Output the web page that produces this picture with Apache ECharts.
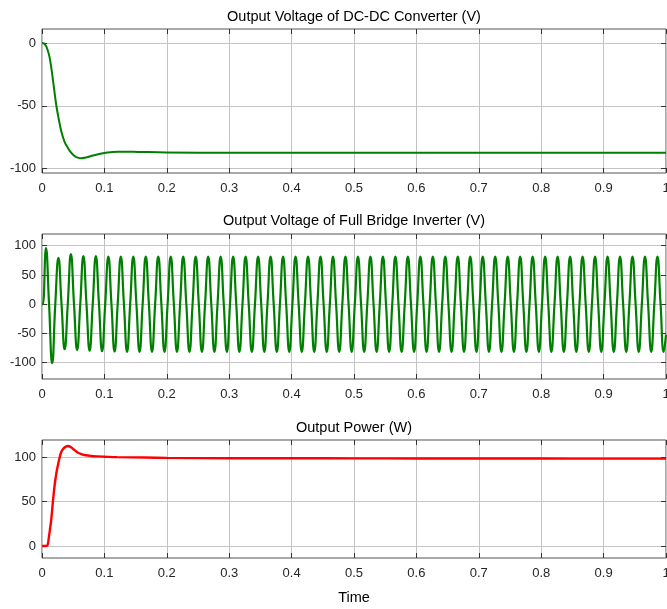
<!DOCTYPE html>
<html>
<head>
<meta charset="utf-8">
<script src="https://cdn.jsdelivr.net/npm/echarts@6/dist/echarts.min.js"></script>
<style>
html,body{margin:0;padding:0;background:#fff;}
#chart{width:667px;height:609px;}
</style>
</head>
<body>
<div id="chart"></div>
<script>
// ---------- data ----------
const titles = [
  'Output Voltage of DC-DC Converter (V)',
  'Output Voltage of Full Bridge Inverter (V)',
  'Output Power (W)'
];
const xLabelName = 'Time';
const xTicks = [0, 0.1, 0.2, 0.3, 0.4, 0.5, 0.6, 0.7, 0.8, 0.9, 1];

const dcYTicks = [-100, -50, 0];
const invYTicks = [-100, -50, 0, 50, 100];
const powYTicks = [0, 50, 100];

// DC-DC converter output voltage
const dcTime = [0, 0.003, 0.006, 0.009, 0.012, 0.015, 0.019, 0.023, 0.027, 0.031, 0.036, 0.042,
  0.047, 0.052, 0.057, 0.063, 0.07, 0.079, 0.09, 0.1, 0.11, 0.122, 0.135, 0.154, 0.2,
  0.3, 0.4, 0.5, 0.6, 0.7, 0.8, 0.9, 1.0];
const dcVolt = [0, -0.3, -2, -5.5, -11, -20, -35, -50, -61, -70.6, -78.5, -84,
  -87.6, -90, -91.3, -91.9, -91.3, -90, -88.6, -87.6, -87, -86.6, -86.6, -86.8, -87.2,
  -87.4, -87.4, -87.4, -87.4, -87.4, -87.4, -87.4, -87.4];

// Full bridge inverter output voltage: samples at the zero crossings / extrema
// (one row = 0.1 s = 5 cycles), plus start and end points
const invStart = 0;
const invVolt = [
  0, 96, 0, -101, 0, 79, 0, -77, 0, 85.6, 0, -78.5, 0, 82, 0, -79.7, 0, 82, 0, -80.5,
  0, 81.5, 0, -81, 0, 81.5, 0, -81.5, 0, 81.5, 0, -81.5, 0, 81.5, 0, -81.5, 0, 81.5, 0, -81.5,
  0, 81.5, 0, -81.5, 0, 81.5, 0, -81.5, 0, 81.5, 0, -81.5, 0, 81.5, 0, -81.5, 0, 81.5, 0, -81.5,
  0, 81.5, 0, -81.5, 0, 81.5, 0, -81.5, 0, 81.5, 0, -81.5, 0, 81.5, 0, -81.5, 0, 81.5, 0, -81.5,
  0, 81.5, 0, -81.5, 0, 81.5, 0, -81.5, 0, 81.5, 0, -81.5, 0, 81.5, 0, -81.5, 0, 81.5, 0, -81.5,
  0, 81.5, 0, -81.5, 0, 81.5, 0, -81.5, 0, 81.5, 0, -81.5, 0, 81.5, 0, -81.5, 0, 81.5, 0, -81.5,
  0, 81.5, 0, -81.5, 0, 81.5, 0, -81.5, 0, 81.5, 0, -81.5, 0, 81.5, 0, -81.5, 0, 81.5, 0, -81.5,
  0, 81.5, 0, -81.5, 0, 81.5, 0, -81.5, 0, 81.5, 0, -81.5, 0, 81.5, 0, -81.5, 0, 81.5, 0, -81.5,
  0, 81.5, 0, -81.5, 0, 81.5, 0, -81.5, 0, 81.5, 0, -81.5, 0, 81.5, 0, -81.5, 0, 81.5, 0, -81.5,
  0, 81.5, 0, -81.5, 0, 81.5, 0, -81.5, 0, 81.5, 0, -81.5, 0, 81.5, 0, -81.5, 0, 81.5, 0, -81.5
];
const invEnd = -52;
const invFirstT = 0.0013;   // time of first sample in invVolt
const invStep = 0.005;      // sample spacing (quarter period of 50 Hz)

// Output power
const powTime = [0, 0.005, 0.0085, 0.011, 0.013, 0.015, 0.0175, 0.0203, 0.023, 0.0256, 0.028,
  0.031, 0.034, 0.037, 0.0417, 0.047, 0.052, 0.057, 0.063, 0.07, 0.079, 0.09, 0.1, 0.12,
  0.165, 0.2, 0.3, 0.4, 0.5, 0.6, 0.7, 0.8, 0.9, 1.0];
const powVal = [0, 0, 0.5, 10, 20, 31, 50, 68.8, 82, 91.3, 99,
  106.3, 109.5, 111.5, 112.7, 111, 108.2, 105.5, 103.7, 102.3, 101.5, 101, 100.7, 100.2,
  99.7, 99.4, 98.9, 98.9, 98.8, 98.7, 98.6, 98.6, 98.5, 98.5];

// ---------- build ----------
const FONT = "'Liberation Sans',Arial,Helvetica,sans-serif";
const zip = (a, b) => a.map((v, i) => [v, b[i]]);
const dcData = zip(dcTime, dcVolt);
const invData = [[0, invStart]].concat(invVolt.map((v, i) => [invFirstT + invStep * i, v]), [[1, invEnd]]);
const powData = zip(powTime, powVal);

const grids = [
  {left: 42, right: 1, top: 29, height: 144},
  {left: 42, right: 1, top: 234, height: 145},
  {left: 42, right: 1, top: 440, height: 118}
].map(g => Object.assign(g, {show: true, borderColor: '#555', borderWidth: 1,
  backgroundColor: '#fff', containLabel: false, outerBoundsMode: 'none'}));

const yRanges = [[-103.6, 11.2], [-128, 120], [-13.5, 119.5]];
const yTickSets = [dcYTicks, invYTicks, powYTicks];

const tickStyle = {show: true, inside: true, length: 5, lineStyle: {color: '#333', width: 1}};
const gridLine = {show: true, lineStyle: {color: '#c4c4c4', width: 1}};
const labelStyle = {color: '#262626', fontSize: 13, fontFamily: FONT};

const xAxes = [], yAxes = [];
for (let g = 0; g < 3; g++) {
  xAxes.push({
    gridIndex: g, type: 'value', min: 0, max: 1, interval: 0.1, position: 'bottom',
    axisLine: {show: false, onZero: false},
    axisTick: Object.assign({}, tickStyle),
    splitLine: gridLine,
    axisLabel: Object.assign({}, labelStyle, {margin: 9,
      showMinLabel: true, showMaxLabel: true, hideOverlap: false,
      formatter: v => String(Math.round(v * 10) / 10)})
  });
  yAxes.push({
    gridIndex: g, type: 'value', min: yRanges[g][0], max: yRanges[g][1], position: 'left',
    axisLine: {show: false, onZero: false},
    axisTick: Object.assign({}, tickStyle, {customValues: yTickSets[g]}),
    splitLine: gridLine,
    axisLabel: Object.assign({}, labelStyle, {customValues: yTickSets[g], margin: 6,
      formatter: v => String(v)})
  });
}
// mirrored axes (ticks on top and right, as in the box-style original)
for (let g = 0; g < 3; g++) {
  xAxes.push({
    gridIndex: g, type: 'value', position: 'top', min: 0, max: 1, interval: 0.1,
    axisLine: {show: false, onZero: false}, axisTick: Object.assign({}, tickStyle),
    splitLine: {show: false}, axisLabel: {show: false}
  });
  yAxes.push({
    gridIndex: g, type: 'value', position: 'right', min: yRanges[g][0], max: yRanges[g][1],
    axisLine: {show: false, onZero: false},
    axisTick: Object.assign({}, tickStyle, {customValues: yTickSets[g]}),
    splitLine: {show: false}, axisLabel: {show: false}
  });
}

const titleTops = [9, 213, 420];
const titleStyle = {fontSize: 14.5, fontWeight: 'normal', color: '#000', fontFamily: FONT, lineHeight: 15};
const titleOpts = titles.map((t, i) => ({
  text: t, left: 354, top: titleTops[i], textAlign: 'center', padding: 0, textStyle: titleStyle
}));
titleOpts.push({
  text: xLabelName, left: 354, top: 590, textAlign: 'center', padding: 0, textStyle: titleStyle
});

const chart = echarts.init(document.getElementById('chart'), null, {renderer: 'canvas'});
chart.setOption({
  animation: false,
  backgroundColor: '#fff',
  title: titleOpts,
  grid: grids,
  xAxis: xAxes,
  yAxis: yAxes,
  series: [
    {type: 'line', xAxisIndex: 0, yAxisIndex: 0, data: dcData, showSymbol: false, smooth: 0.4,
      lineStyle: {color: '#008000', width: 2}, clip: true},
    {type: 'line', xAxisIndex: 1, yAxisIndex: 1, data: invData, showSymbol: false, smooth: 0.5,
      lineStyle: {color: '#008000', width: 2.2}, clip: true},
    {type: 'line', xAxisIndex: 2, yAxisIndex: 2, data: powData, showSymbol: false, smooth: 0.4,
      lineStyle: {color: '#ff0000', width: 2.4}, clip: true}
  ]
});
</script>
</body>
</html>
